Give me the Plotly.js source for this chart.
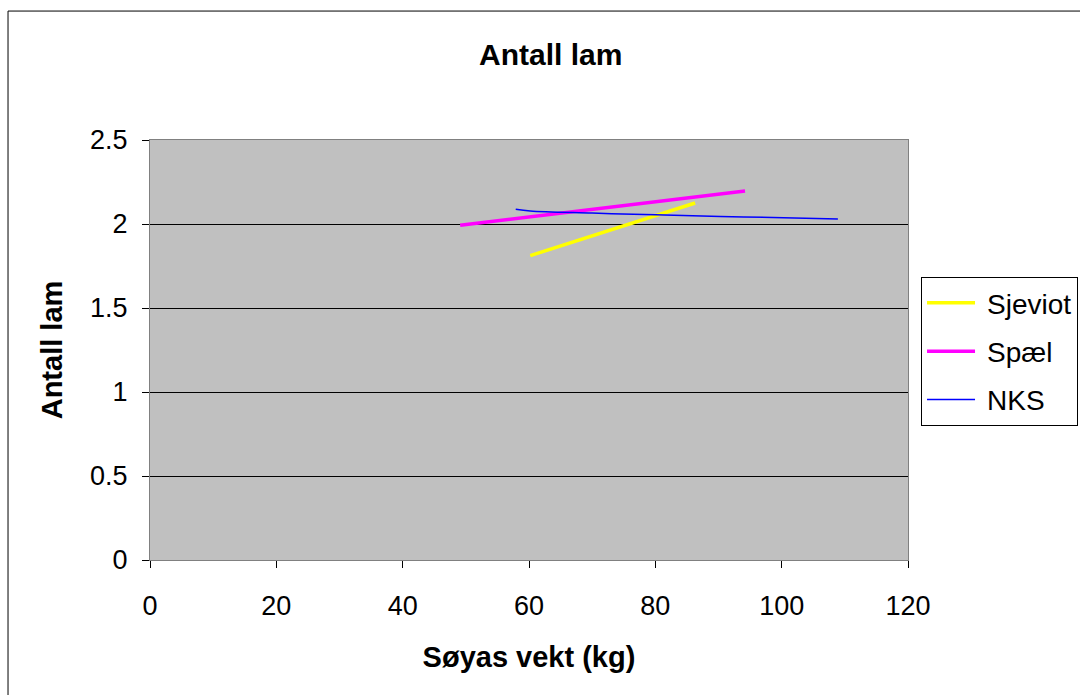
<!DOCTYPE html>
<html><head><meta charset="utf-8">
<script src="https://cdn.plot.ly/plotly-3.0.1.min.js"></script>
<style>body{margin:0;background:#fff}#c{width:1080px;height:695px}</style>
</head><body><div id="c"></div>
<script>
const sjeviotX = [60.2, 86.3];
const sjeviotY = [1.812, 2.125];
const spaelX = [49.1, 94.2];
const spaelY = [1.993, 2.196];
const nksX = [57.9, 60.2, 70, 80, 94, 108.9];
const nksY = [2.088, 2.077, 2.065, 2.055, 2.042, 2.030];

const traces = [
  {x: sjeviotX, y: sjeviotY, name: 'Sjeviot', legendgroup: 'a', mode: 'lines', line: {color: '#FFFF00', width: 3.5}},
  {x: spaelX, y: spaelY, name: 'Spæl', legendgroup: 'b', mode: 'lines', line: {color: '#FF00FF', width: 3.5}},
  {x: nksX, y: nksY, name: 'NKS', legendgroup: 'c', mode: 'lines', line: {color: '#0000FF', width: 1.5, shape: 'spline'}}
];
const font = {family: 'Liberation Sans, Arial, sans-serif', color: '#000'};
const layout = {
  width: 1080, height: 695,
  margin: {l: 150, r: 172, t: 140, b: 135},
  paper_bgcolor: '#fff', plot_bgcolor: '#C0C0C0',
  font: Object.assign({size: 27}, font),
  title: {text: '<b>Antall lam</b>', font: Object.assign({size: 30}, font), x: 0.51, xanchor: 'center', y: 0.921, yanchor: 'middle'},
  xaxis: {range: [0, 120], dtick: 20, tick0: 0, showgrid: false, zeroline: false, ticks: 'outside', ticklen: 7, tickcolor: '#000',
    showline: true, linecolor: '#808080', mirror: true, linewidth: 1, tickfont: {size: 27}, ticklabelstandoff: 15,
    title: {text: '<b>Søyas vekt (kg)</b>', font: {size: 29}, standoff: 26}},
  yaxis: {range: [0, 2.5], dtick: 0.5, tick0: 0, showgrid: true, gridcolor: '#000', gridwidth: 1, zeroline: false,
    ticks: 'outside', ticklen: 7, tickcolor: '#000', showline: true, linecolor: '#808080', mirror: true, linewidth: 1,
    tickfont: {size: 27}, ticklabelstandoff: 9, title: {text: '<b>Antall lam</b>', font: {size: 29}, standoff: 18}},
  showlegend: true,
  legend: {xref: 'container', yref: 'container', x: 0.8528, xanchor: 'left', y: 0.6014, yanchor: 'top', bgcolor: '#fff', bordercolor: '#000', borderwidth: 1,
    font: {size: 28}, tracegroupgap: 9, itemwidth: 55},
  shapes: [{type: 'rect', xref: 'paper', yref: 'paper', x0: -0.1873, x1: 1.25, y0: -0.5, y1: 1.307, line: {color: '#000', width: 1}, fillcolor: 'rgba(0,0,0,0)', layer: 'below'}]
};
Plotly.newPlot('c', traces, layout, {displayModeBar: false}).then(function () {
  document.querySelectorAll('.legend .legendlines path').forEach(function (p) { p.setAttribute('d', 'M5,0h48'); });
});
</script></body></html>
